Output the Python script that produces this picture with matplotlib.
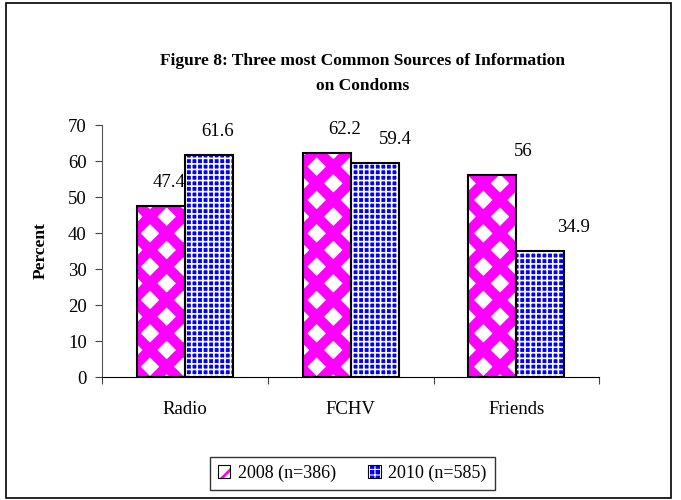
import numpy as np
import matplotlib
matplotlib.use("Agg")
import matplotlib.pyplot as plt
from matplotlib.patches import Rectangle
from matplotlib.legend_handler import HandlerBase

categories = ["Radio", "FCHV", "Friends"]
values_2008 = [47.4, 62.2, 56]
values_2010 = [61.6, 59.4, 34.9]
labels_2008 = ["47.4", "62.2", "56"]
labels_2010 = ["61.6", "59.4", "34.9"]
series_names = ["2008 (n=386)", "2010 (n=585)"]
yticks = [0, 10, 20, 30, 40, 50, 60, 70]

plt.rcParams['font.family'] = ['Liberation Serif', 'DejaVu Serif']

fig = plt.figure(figsize=(6.81, 5.0), dpi=100)
ax = fig.add_axes([0.150, 0.246, 0.730, 0.504])

x = np.arange(len(categories))
w = 0.29

plt.rcParams['hatch.linewidth'] = 7.5
b1 = ax.bar(x - w/2, values_2008, w, color='white', edgecolor='#FF00FF', hatch='x', linewidth=0)
plt.rcParams['hatch.linewidth'] = 1.2
b2 = ax.bar(x + w/2, values_2010, w, color='#0000FF', edgecolor='white', hatch='+++', linewidth=0)
ax.bar(x - w/2, values_2008, w, fill=False, edgecolor='black', linewidth=1.5)
ax.bar(x + w/2, values_2010, w, fill=False, edgecolor='black', linewidth=1.5)

# Excel shifted the data labels to the right a bit more for each group
dx_2008 = [6, 13, 22]
dx_2010 = [6, 15, 24]
for i in range(len(categories)):
    ax.annotate(labels_2008[i], (x[i] - w/2, values_2008[i]), xytext=(dx_2008[i], 17),
                textcoords='offset points', ha='center', va='center', fontsize=13.5)
    ax.annotate(labels_2010[i], (x[i] + w/2, values_2010[i]), xytext=(dx_2010[i], 17),
                textcoords='offset points', ha='center', va='center', fontsize=13.5)

ax.set_xlim(-0.5, 2.5)
ax.set_ylim(0, 70)
ax.set_yticks(yticks)
ax.set_xticks([-0.5, 0.5, 1.5, 2.5], minor=False)
ax.set_xticklabels([])
ax.set_xticks(x, minor=True)
ax.set_xticklabels(categories, minor=True, fontsize=13.5)
ax.tick_params(axis='x', which='minor', length=0, pad=17)
ax.tick_params(axis='x', which='major', length=5, direction='out', color='#444444')
ax.tick_params(axis='y', length=5, direction='out', labelsize=13.5, pad=6, color='#444444')
ax.spines['right'].set_visible(False)
ax.spines['top'].set_visible(False)
ax.spines['left'].set_color('#555555')
ax.spines['bottom'].set_color('black')
ax.set_ylabel("Percent", fontsize=12.5, fontweight='bold', labelpad=14)

fig.text(0.533, 0.853, "Figure 8: Three most Common Sources of Information\non Condoms",
         ha='center', va='center', fontsize=12.5, fontweight='bold', linespacing=1.75)


class BoxHandler(HandlerBase):
    # hatched square plus a black outline, like the Excel legend keys
    def create_artists(self, legend, orig, xd, yd, width, height, fontsize, trans):
        s = min(width, height)
        x0 = xd * -1 + (width - s) / 2
        y0 = yd * -1 + (height - s) / 2
        fill = Rectangle((x0, y0), s, s, facecolor=orig.get_facecolor(),
                         edgecolor=orig.get_edgecolor(), hatch=orig.get_hatch(),
                         linewidth=0, transform=trans)
        fill._hatch_linewidth = 2.0 if orig.get_hatch() == 'x' else 0.8
        box = Rectangle((x0, y0), s, s, fill=False, edgecolor='black',
                        linewidth=0.8, transform=trans)
        return [fill, box]


leg = fig.legend([b1.patches[0], b2.patches[0]], series_names, loc='center',
                 bbox_to_anchor=(0.517, 0.053), ncol=2,
                 fontsize=13, frameon=True, fancybox=False, edgecolor='black',
                 handlelength=0.7, handleheight=0.7, handletextpad=0.4,
                 columnspacing=1.8, borderpad=0.45,
                 handler_map={Rectangle: BoxHandler()})
leg.get_frame().set_linewidth(1.0)

fig.patches.append(Rectangle((6/681, 0.004), 665/681, 0.99, transform=fig.transFigure,
                             fill=False, edgecolor='black', linewidth=1.2))

fig.savefig("out.png", dpi=100)
